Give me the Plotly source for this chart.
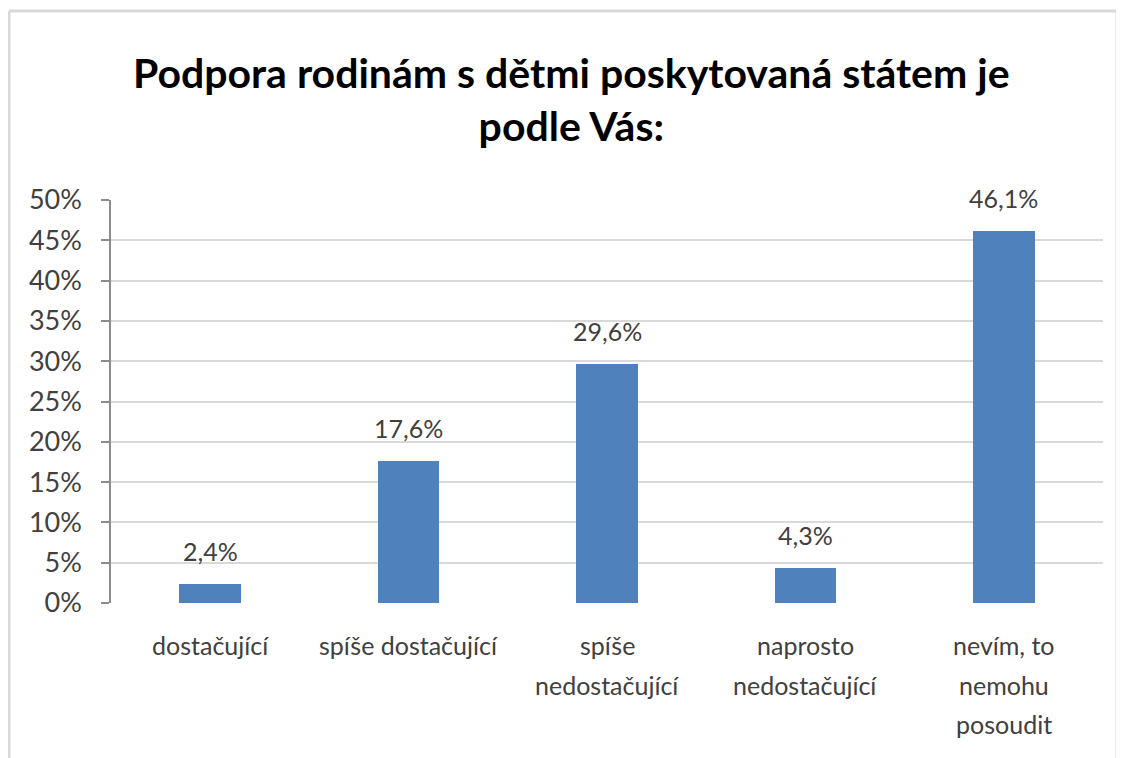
import plotly.graph_objects as go

categories = ["dostačující", "spíše dostačující", "spíše<br>nedostačující",
              "naprosto<br>nedostačující", "nevím, to<br>nemohu<br>posoudit"]
values = [2.4, 17.6, 29.6, 4.3, 46.1]
y_ticks = [0, 5, 10, 15, 20, 25, 30, 35, 40, 45, 50]
title_text = "Podpora rodinám s dětmi poskytovaná státem je<br>podle Vás:"

FONT = "Lato"
TXT = "#404040"
x_idx = list(range(len(categories)))

# figure is drawn inside the page's 8px body margin
W, H = 1116, 750
L, T, R, B = 103, 192, 21, 155
PH = H - T - B
PW = W - L - R

fig = go.Figure()
fig.add_trace(go.Bar(
    x=x_idx, y=values, width=0.31,
    marker=dict(color="#4F81BD", line=dict(width=0)),
    hoverinfo="skip",
))

annotations = []
# chart title
annotations.append(dict(
    x=(563 - L) / PW, xref="paper", y=(PH + 101) / PH, yref="paper",
    text=title_text, showarrow=False, xanchor="center", yanchor="middle",
    font=dict(family=FONT, size=41, color="black", weight="bold"),
))
# data labels
for i, v in zip(x_idx, values):
    annotations.append(dict(
        x=i, y=v, xref="x", yref="y",
        text=f"{v:.1f}".replace(".", ",") + "%",
        showarrow=False, yanchor="middle", yshift=33,
        font=dict(family=FONT, size=25, color=TXT),
    ))
# category labels (multi-line with wider line spacing)
for i, lab in zip(x_idx, categories):
    for k, line in enumerate(lab.split("<br>")):
        annotations.append(dict(
            x=i, y=0, xref="x", yref="paper",
            text=line, showarrow=False, yanchor="middle",
            yshift=-42 - 39.5 * k,
            font=dict(family=FONT, size=25, color=TXT),
        ))

border = dict(color="#d9d9d9", width=3)
x_left = (1 - L) / PW
x_right = (1109 - L) / PW
y_top = (PH + T - 3) / PH
y_bot = -1.0

fig.update_layout(
    width=W, height=H,
    margin=dict(l=L, r=R, t=T, b=B),
    paper_bgcolor="white", plot_bgcolor="white",
    showlegend=False,
    bargap=0,
    annotations=annotations,
    shapes=[
        dict(type="line", xref="paper", yref="paper", x0=x_left, x1=x_right,
             y0=y_top, y1=y_top, line=border, layer="above"),
        dict(type="line", xref="paper", yref="paper", x0=x_left, x1=x_left,
             y0=y_bot, y1=y_top, line=border, layer="above"),
        dict(type="line", xref="paper", yref="paper", x0=x_right, x1=x_right,
             y0=y_bot, y1=y_top, line=border, layer="above"),
    ],
)

fig.update_xaxes(
    range=[-0.5, len(categories) - 0.5],
    showticklabels=False, showgrid=False, zeroline=False,
    showline=False, ticks="", fixedrange=True,
)
fig.update_yaxes(
    range=[0, 50], tickvals=y_ticks,
    ticktext=[f"{t}%" for t in y_ticks],
    showgrid=True, gridcolor="#d9d9d9", gridwidth=1.5,
    zeroline=False,
    showline=True, linecolor="#8c8c8c", linewidth=1.5,
    ticks="outside", ticklen=8, tickcolor="#8c8c8c", tickwidth=1.5,
    ticklabelstandoff=14,
    tickfont=dict(family=FONT, size=27, color=TXT),
    fixedrange=True,
)

fig.write_html("out.html")
